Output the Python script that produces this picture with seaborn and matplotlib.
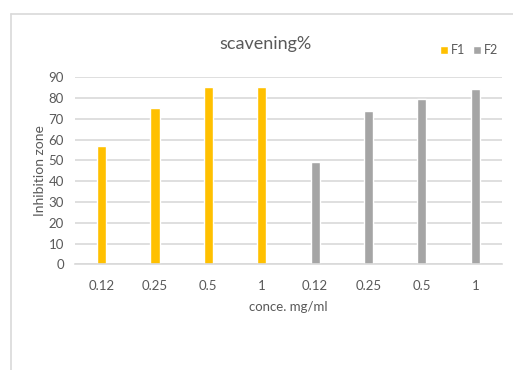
import matplotlib
matplotlib.use("Agg")
import matplotlib.pyplot as plt
from matplotlib.lines import Line2D
import pandas as pd
import seaborn as sns

concentrations = ["0.12", "0.25", "0.5", "1"]
f1_values = [56.8, 75.4, 85.2, 85.5]
f2_values = [49.4, 73.8, 79.5, 84.2]
series_names = ["F1", "F2"]
series_colors = ["#FFC000", "#A5A5A5"]

rows = []
slot = 0
for name, vals in zip(series_names, [f1_values, f2_values]):
    for c, v in zip(concentrations, vals):
        rows.append({"slot": slot, "conc": c, "series": name, "value": v})
        slot += 1
df = pd.DataFrame(rows)

sns.set_theme(style="white")
plt.rcParams["font.family"] = ["Lato", "DejaVu Sans"]
text_color = "#595959"
grid_color = "#D9D9D9"

fig = plt.figure(figsize=(5.13, 3.70), dpi=100)
ax = fig.add_axes([0.146, 0.2857, 0.8326, 0.5053])

sns.barplot(data=df, x="slot", y="value", hue="series", dodge=False,
            palette=series_colors, width=0.17, ax=ax, legend=True,
            saturation=1, errorbar=None)

ax.set_ylim(0, 90)
ax.set_yticks(range(0, 91, 10))
ax.set_xlim(-0.5, 7.5)
ax.set_xticks(range(8))
ax.set_xticklabels(list(df["conc"]))
ax.yaxis.grid(True, color=grid_color, linewidth=1.2)
ax.set_axisbelow(True)
for s in ["left", "right", "top"]:
    ax.spines[s].set_visible(False)
ax.spines["bottom"].set_color(grid_color)
ax.spines["bottom"].set_linewidth(1.2)
ax.tick_params(axis="both", length=0, colors=text_color, labelsize=9.5)
ax.tick_params(axis="x", pad=11)
ax.tick_params(axis="y", pad=8)

ax.set_xlabel("conce. mg/ml", color=text_color, fontsize=9.5, labelpad=7)
ax.set_ylabel("Inhibition zone", color=text_color, fontsize=10, labelpad=2)

fig.text(0.517, 0.882, "scavening%", ha="center", va="center",
         color=text_color, fontsize=13)

leg = ax.legend(loc="center right", bbox_to_anchor=(0.992, 1.145), ncol=2,
                frameon=False, handlelength=0.6, handleheight=0.6,
                handletextpad=0.3, columnspacing=0.6, fontsize=9,
                labelcolor=text_color, borderaxespad=0, borderpad=0)

# chart area border (left and top edges)
fig.add_artist(Line2D([0.0224, 0.0224], [0.0, 0.961], color="#D9D9D9",
                      linewidth=1.2, transform=fig.transFigure))
fig.add_artist(Line2D([0.0224, 1.0], [0.961, 0.961], color="#D9D9D9",
                      linewidth=1.2, transform=fig.transFigure))

fig.savefig("out.png", dpi=100, facecolor="white")
